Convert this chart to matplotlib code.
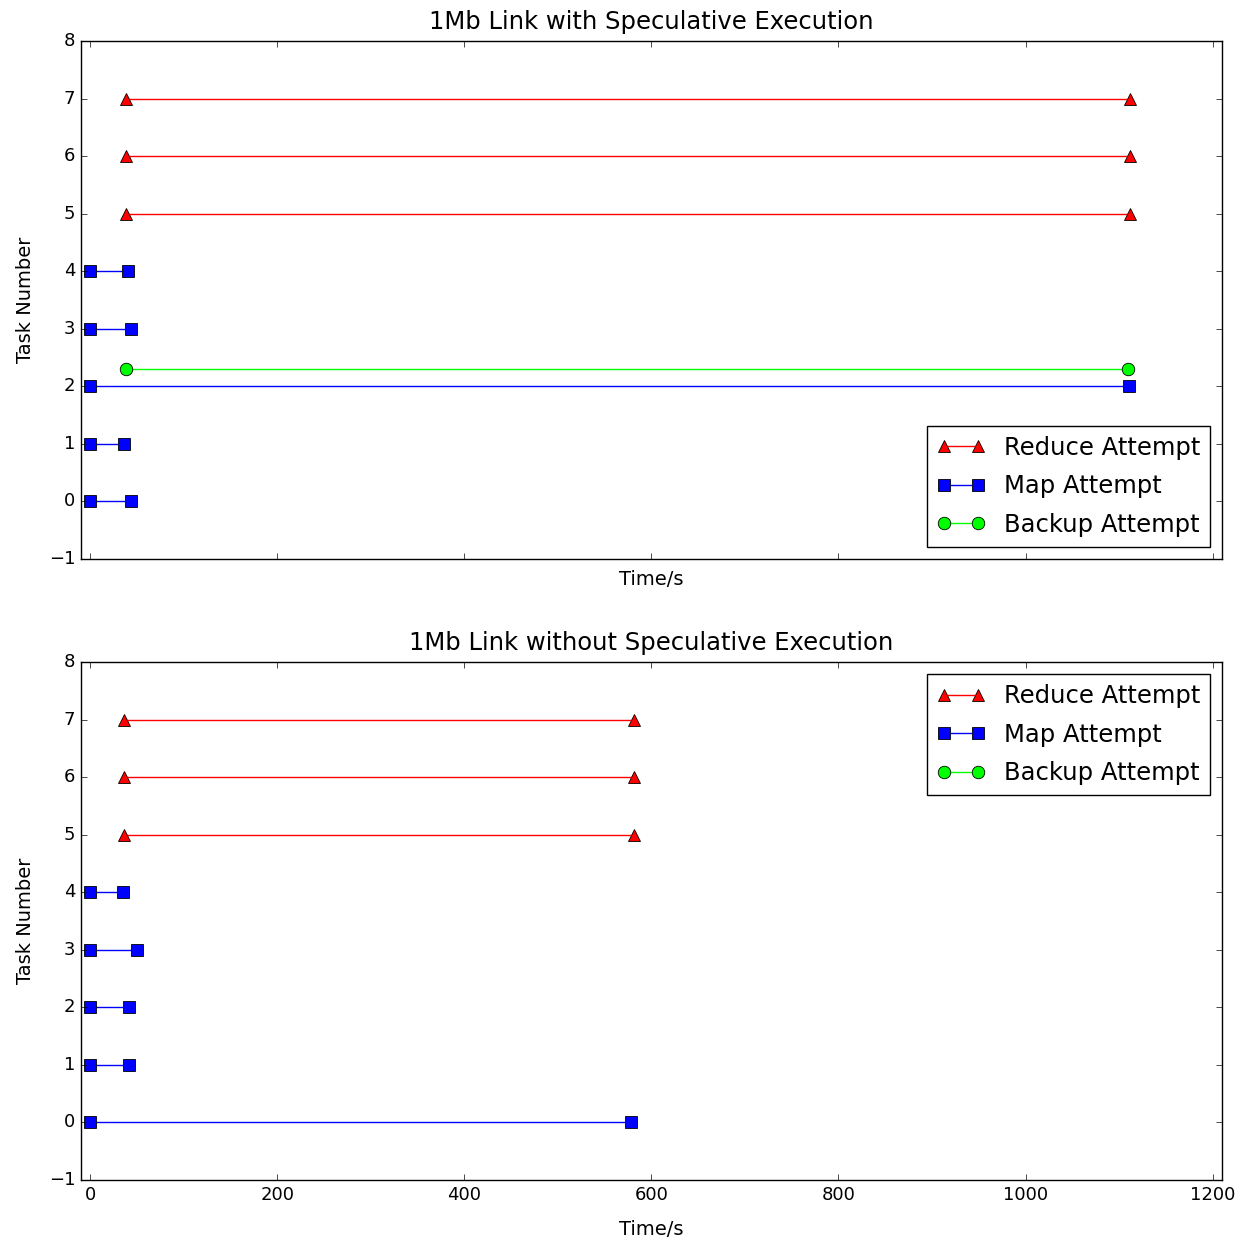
import numpy as np
import matplotlib.pyplot as plt

plt.style.use("classic")

# time (s) each attempt starts / ends, per task number
# with speculative execution
spec_reduce_tasks = [5, 6, 7]
spec_reduce_start = [38.5, 38.5, 38.5]
spec_reduce_end = [1112, 1112, 1112]
spec_map_tasks = [0, 1, 2, 3, 4]
spec_map_start = [0, 0, 0, 0, 0]
spec_map_end = [43.5, 36.4, 1111, 43.5, 40.6]
spec_backup_tasks = [2.3]
spec_backup_start = [38.5]
spec_backup_end = [1110]

# without speculative execution
nospec_reduce_tasks = [5, 6, 7]
nospec_reduce_start = [36.4, 36.4, 36.4]
nospec_reduce_end = [581, 581, 581]
nospec_map_tasks = [0, 1, 2, 3, 4]
nospec_map_start = [0, 0, 0, 0, 0]
nospec_map_end = [578.6, 41.4, 41.4, 50, 35]


def draw(ax, reduce_, map_, backup_, xpad):
    for i, (t, s, e) in enumerate(zip(*reduce_)):
        ax.plot([s, e], [t, t], "r^-", ms=9, mew=0.6,
                label="Reduce Attempt" if i == 0 else None)
    for i, (t, s, e) in enumerate(zip(*map_)):
        ax.plot([s, e], [t, t], "bs-", ms=9, mew=0.6,
                label="Map Attempt" if i == 0 else None)
    for i, (t, s, e) in enumerate(zip(*backup_)):
        ax.plot([s, e], [t, t], "o-", color="#00ff00", ms=9, mew=0.6,
                label="Backup Attempt" if i == 0 else None)
    if len(backup_[0]) == 0:
        # nothing to draw, but the legend still lists it
        ax.plot([], [], "o-", color="#00ff00", ms=9, mew=0.6, label="Backup Attempt")
    ax.set_xlim(-10, 1210)
    ax.set_ylim(-1, 8)
    ax.set_xlabel("Time/s", fontsize=14, labelpad=xpad)
    ax.set_ylabel("Task Number", fontsize=14, labelpad=10)
    ax.tick_params(labelsize=13)


fig, (ax1, ax2) = plt.subplots(2, 1, sharex=True, figsize=(12.38, 12.43), dpi=100)
fig.patch.set_facecolor("white")
fig.subplots_adjust(left=0.0654, right=0.987, top=0.967, bottom=0.0507, hspace=0.2)

draw(ax1, (spec_reduce_tasks, spec_reduce_start, spec_reduce_end),
     (spec_map_tasks, spec_map_start, spec_map_end),
     (spec_backup_tasks, spec_backup_start, spec_backup_end), 8)
draw(ax2, (nospec_reduce_tasks, nospec_reduce_start, nospec_reduce_end),
     (nospec_map_tasks, nospec_map_start, nospec_map_end),
     ([], [], []), 12)

ax1.set_title("1Mb Link with Speculative Execution", fontsize=17.5, pad=9)
ax2.set_title("1Mb Link without Speculative Execution", fontsize=17.5, pad=9)
ax1.xaxis.set_tick_params(labelbottom=False)

leg_kw = dict(fontsize=17.5, numpoints=2, handlelength=2.0, labelspacing=0.6,
              borderpad=0.4, handletextpad=0.75)
ax1.legend(loc="lower right", **leg_kw)
ax2.legend(loc="upper right", **leg_kw)

fig.savefig("out.png", dpi=100, facecolor="white")
